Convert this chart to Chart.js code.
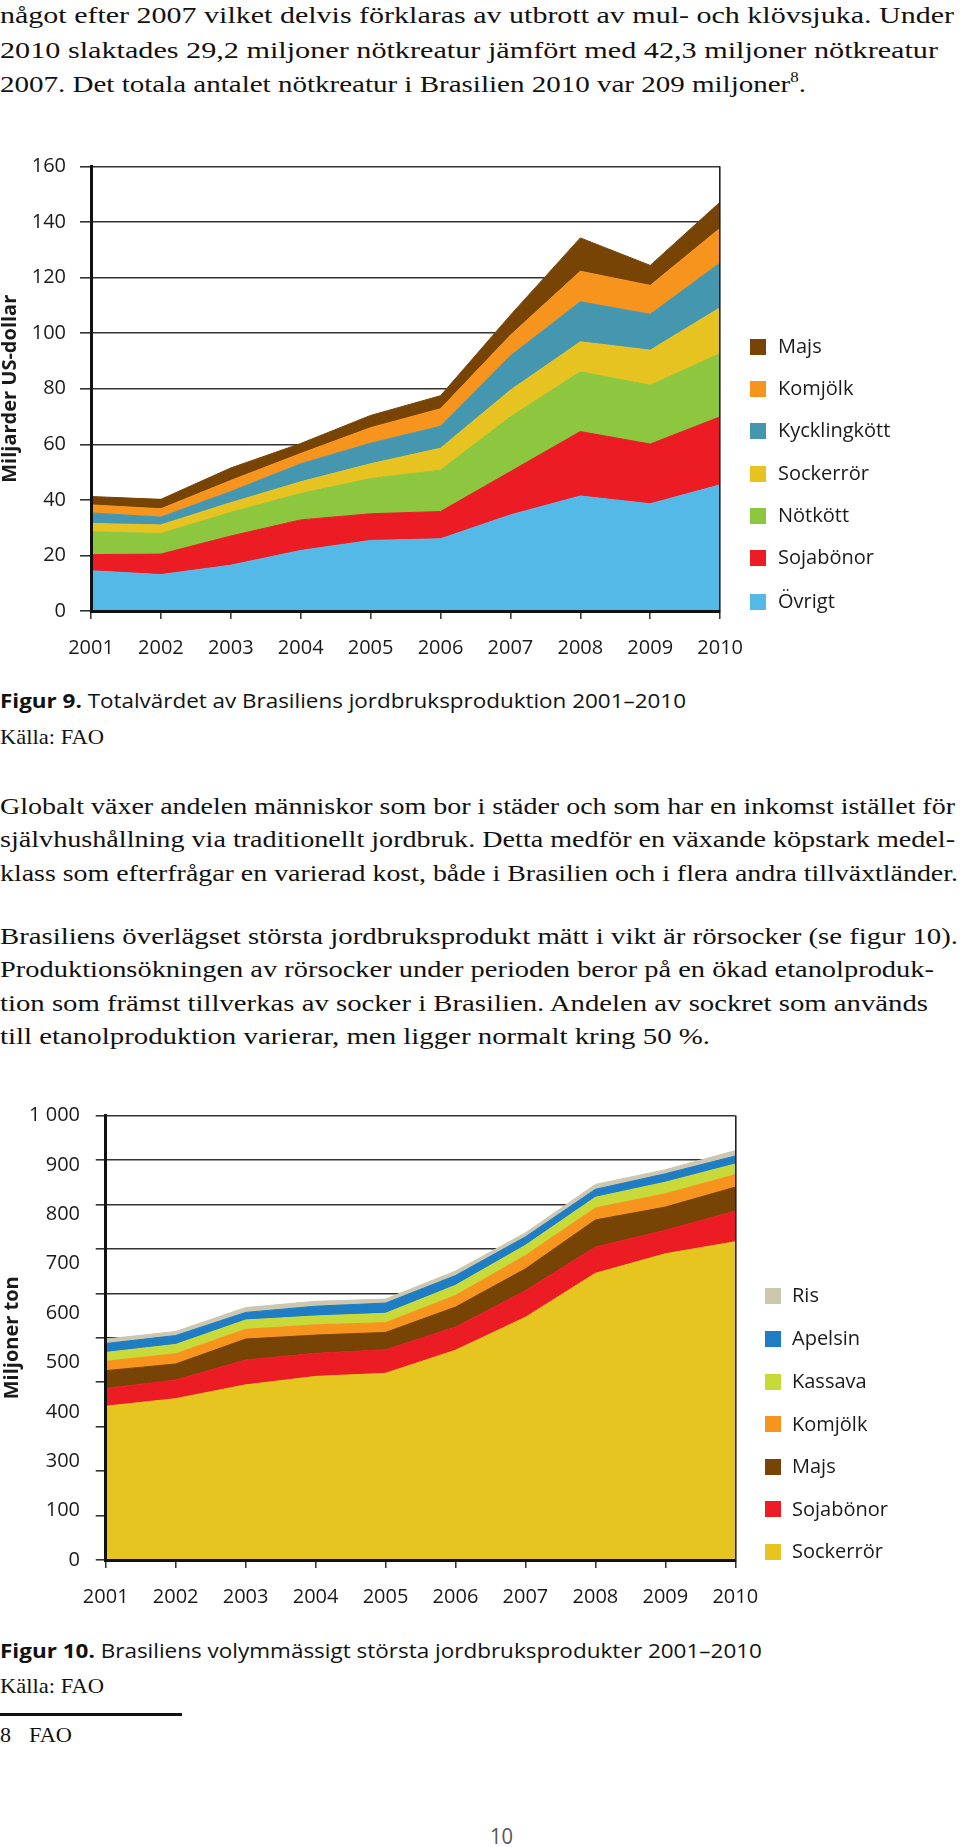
<!DOCTYPE html>
<html lang="sv">
<head>
<meta charset="utf-8">
<title>Brasiliens jordbruksproduktion</title>
<script src="https://cdn.jsdelivr.net/npm/chart.js@4/dist/chart.umd.min.js"></script>
<style>
  html, body { margin: 0; padding: 0; background: #fff; }
  #page { position: relative; width: 960px; height: 1847px; overflow: hidden; background: #fff; color: #111; }
  .ln { position: absolute; left: 0; white-space: nowrap; line-height: 1; transform-origin: 0 0; }
  .serif { font-family: "Liberation Serif", "Times New Roman", serif; font-size: 24px; }
  .serif22 { font-family: "Liberation Serif", "Times New Roman", serif; font-size: 22px; }
  .sans { font-family: "Open Sans", "Noto Sans", sans-serif; font-size: 20px; }
  .sans b { font-weight: 700; }
  sup { font-size: 14px; line-height: 0; vertical-align: 10px; }
  .chartbox { position: absolute; left: 0; }
  .leg { position: absolute; font-family: "Open Sans", "Noto Sans", sans-serif; font-size: 20px; line-height: 1; color: #1a1a1a; white-space: nowrap; }
  .sw { position: absolute; width: 16px; height: 16px; }
  #rule { position: absolute; left: 0; top: 1713px; width: 182px; height: 3px; background: #111; }
  .pgno { font-family: "Open Sans", "Noto Sans", sans-serif; font-size: 21px; color: #555; }
</style>
</head>
<body>
<div id="page">
  <!-- paragraph 1 -->
  <div class="ln serif" style="top:3.4px" data-w="954">något efter 2007 vilket delvis förklaras av utbrott av mul- och klövsjuka. Under</div>
  <div class="ln serif" style="top:38px" data-w="938">2010 slaktades 29,2 miljoner nötkreatur jämfört med 42,3 miljoner nötkreatur</div>
  <div class="ln serif" style="top:72.4px" data-w="806">2007. Det totala antalet nötkreatur i Brasilien 2010 var 209 miljoner<sup>8</sup>.</div>

  <!-- chart 1 -->
  <div class="chartbox" style="top:136px; width:760px; height:534px;"><canvas id="c1" width="760" height="534"></canvas></div>
  <div id="leg1"></div>

  <div class="ln sans" style="top:690.5px" data-w="686"><b>Figur 9.</b> Totalvärdet av Brasiliens jordbruksproduktion 2001–2010</div>
  <div class="ln serif22" style="top:725.6px" data-w="104">Källa: FAO</div>

  <!-- paragraph 2 -->
  <div class="ln serif" style="top:793.9px" data-w="955">Globalt växer andelen människor som bor i städer och som har en inkomst istället för</div>
  <div class="ln serif" style="top:827.4px" data-w="955">självhushållning via traditionellt jordbruk. Detta medför en växande köpstark medel-</div>
  <div class="ln serif" style="top:860.9px" data-w="958">klass som efterfrågar en varierad kost, både i Brasilien och i flera andra tillväxtländer.</div>

  <!-- paragraph 3 -->
  <div class="ln serif" style="top:923.5px" data-w="958">Brasiliens överlägset största jordbruksprodukt mätt i vikt är rörsocker (se figur 10).</div>
  <div class="ln serif" style="top:957px" data-w="934">Produktionsökningen av rörsocker under perioden beror på en ökad etanolproduk-</div>
  <div class="ln serif" style="top:990.5px" data-w="928">tion som främst tillverkas av socker i Brasilien. Andelen av sockret som används</div>
  <div class="ln serif" style="top:1024px" data-w="710">till etanolproduktion varierar, men ligger normalt kring 50 %.</div>

  <!-- chart 2 -->
  <div class="chartbox" style="top:1083px; width:780px; height:537px;"><canvas id="c2" width="780" height="537"></canvas></div>
  <div id="leg2"></div>

  <div class="ln sans" style="top:1641.2px" data-w="762"><b>Figur 10.</b> Brasiliens volymmässigt största jordbruksprodukter 2001–2010</div>
  <div class="ln serif22" style="top:1674.6px" data-w="104">Källa: FAO</div>
  <div id="rule"></div>
  <div class="ln serif22" style="top:1723.6px; left:0">8</div>
  <div class="ln serif22" style="top:1723.6px; left:29px" data-w="43">FAO</div>
  <div class="ln pgno" style="top:1826.3px; left:490px" data-w="23">10</div>
</div>

<script>
// ---------- data ----------
const years = ['2001','2002','2003','2004','2005','2006','2007','2008','2009','2010'];

// Figur 9 – Miljarder US-dollar
const ovrigt1    = [14.5, 13.1, 16.5, 21.8, 25.4, 26.0, 34.6, 41.4, 38.6, 45.4];
const sojabonor1 = [5.8, 7.4, 10.5, 11.0, 9.6, 9.8, 15.6, 23.2, 21.5, 24.5];
const notkott1   = [8.2, 7.4, 8.5, 9.5, 12.7, 14.9, 19.7, 21.5, 21.2, 22.8];
const sockerror1 = [3.0, 3.1, 3.5, 4.2, 5.3, 7.9, 9.6, 10.8, 12.6, 16.5];
const kyckling1  = [3.8, 2.8, 4.0, 6.5, 7.4, 7.9, 12.4, 14.4, 12.9, 16.1];
const komjolk1   = [2.9, 3.0, 4.0, 3.7, 5.6, 6.3, 7.4, 11.0, 10.4, 12.5];
const majs1      = [3.0, 3.4, 4.5, 3.6, 4.4, 4.7, 7.2, 12.0, 7.2, 9.4];

// Figur 10 – Miljoner ton
const sockerror2 = [346, 363, 394, 413, 420, 472, 546, 645, 689, 716];
const sojabonor2 = [40, 42, 56, 52, 53, 52, 60, 59, 53, 69];
const majs2      = [40, 36, 47, 41, 39, 45, 49, 61, 52, 54];
const komjolk2   = [21, 23, 22, 23, 22, 26, 30, 27, 30, 28];
const kassava2   = [20, 21, 21, 20, 21, 23, 23, 24, 26, 24];
const apelsin2   = [20, 20, 17, 22, 23, 22, 19, 18, 19, 18];
const ris2       = [10, 9, 11, 11, 9, 10, 9, 11, 9, 12];

// y tick labels of Figur 10 as printed (evenly spaced, independent of the grid)
const yLabels2 = ['0', '100', '300', '400', '500', '600', '700', '800', '900', '1 000'];

// ---------- styles ----------
const series1 = [
  {label: 'Övrigt',       data: ovrigt1,    color: '#55b9e8'},
  {label: 'Sojabönor',    data: sojabonor1, color: '#ec1c24'},
  {label: 'Nötkött',      data: notkott1,   color: '#8dc63f'},
  {label: 'Sockerrör',    data: sockerror1, color: '#e7c322'},
  {label: 'Kycklingkött', data: kyckling1,  color: '#4597b0'},
  {label: 'Komjölk',      data: komjolk1,   color: '#f7941d'},
  {label: 'Majs',         data: majs1,      color: '#774406'}
];
const series2 = [
  {label: 'Sockerrör', data: sockerror2, color: '#e6c520'},
  {label: 'Sojabönor', data: sojabonor2, color: '#ec1c24'},
  {label: 'Majs',      data: majs2,      color: '#774406'},
  {label: 'Komjölk',   data: komjolk2,   color: '#f7941d'},
  {label: 'Kassava',   data: kassava2,   color: '#c8d93a'},
  {label: 'Apelsin',   data: apelsin2,   color: '#1f7dc3'},
  {label: 'Ris',       data: ris2,       color: '#cdc7b0'}
];

const FONT = '"Open Sans", "Noto Sans", sans-serif';
const INK = '#1a1a1a';

function makeDatasets(series) {
  return series.map((s, i) => ({
    label: s.label,
    data: s.data,
    backgroundColor: s.color,
    borderColor: s.color,
    borderWidth: 1,
    pointRadius: 0,
    pointHoverRadius: 0,
    tension: 0,
    fill: i === 0 ? 'origin' : '-1'
  }));
}

function xAxis(height) {
  return {
    type: 'category',
    offset: false,
    afterFit: (s) => { s.height = height; },
    grid: {
      display: true,
      drawOnChartArea: true,
      offset: false,
      z: 1,
      color: (ctx) => (ctx.index === years.length - 1 ? '#222' : 'rgba(0,0,0,0)'),
      lineWidth: 1.6,
      tickColor: '#222',
      tickWidth: 1.4,
      tickLength: 8
    },
    border: { display: true, color: '#111', width: 3, z: 1 },
    ticks: {
      color: INK, padding: 17, maxRotation: 0, autoSkip: false,
      font: { family: FONT, size: 20, lineHeight: 1.2 }
    }
  };
}

function yTitle(text, padTop) {
  return {
    display: true, text: text, color: INK,
    font: { family: FONT, size: 20, weight: 'bold', lineHeight: 1 },
    padding: { top: padTop, bottom: 0 }
  };
}

Chart.defaults.devicePixelRatio = 1;

// ---------- Figur 9 ----------
new Chart(document.getElementById('c1'), {
  type: 'line',
  data: { labels: years, datasets: makeDatasets(series1) },
  options: {
    responsive: false,
    animation: false,
    devicePixelRatio: 1,
    layout: { padding: { left: 0, right: 39, top: 30.5, bottom: 0 } },
    plugins: { legend: { display: false }, tooltip: { enabled: false } },
    elements: { line: { borderJoinStyle: 'miter' } },
    scales: {
      x: xAxis(59),
      y: {
        stacked: true,
        min: 0, max: 160,
        afterFit: (s) => { s.width = 91; },
        title: yTitle('Miljarder US-dollar', 0),
        grid: { color: '#333', lineWidth: 1.6, tickLength: 11, tickColor: '#333', drawTicks: true },
        border: { display: true, color: '#111', width: 3, z: 1 },
        ticks: {
          stepSize: 20, padding: 14, color: INK, autoSkip: false,
          font: { family: FONT, size: 20, lineHeight: 1.2 }
        }
      }
    }
  }
});

// ---------- Figur 10 ----------
new Chart(document.getElementById('c2'), {
  type: 'line',
  data: { labels: years, datasets: makeDatasets(series2) },
  options: {
    responsive: false,
    animation: false,
    devicePixelRatio: 1,
    layout: { padding: { left: 0, right: 44.7, top: 32.5, bottom: 0 } },
    plugins: { legend: { display: false }, tooltip: { enabled: false } },
    scales: {
      x: xAxis(60),
      y: {
        stacked: true,
        min: 0, max: 1000,
        afterFit: (s) => { s.width = 105.7; },
        afterBuildTicks: (scale) => {
          const ticks = [];
          for (let v = 0; v <= 1000; v += 100) ticks.push({ value: v, _grid: true, _label: '' });
          yLabels2.forEach((lab, i) => {
            const v = i * 1000 / (yLabels2.length - 1);
            const hit = ticks.find(t => Math.abs(t.value - v) < 0.5);
            if (hit) hit._label = lab;
            else ticks.push({ value: v, _grid: false, _label: lab });
          });
          ticks.sort((a, b) => a.value - b.value);
          scale.ticks = ticks;
        },
        title: yTitle('Miljoner ton', 2),
        grid: {
          color: (ctx) => (ctx.tick && ctx.tick._grid ? '#333' : 'rgba(0,0,0,0)'),
          tickColor: (ctx) => (ctx.tick && ctx.tick._grid ? '#333' : 'rgba(0,0,0,0)'),
          lineWidth: 1.6, tickLength: 10, drawTicks: true
        },
        border: { display: true, color: '#111', width: 3, z: 1 },
        ticks: {
          padding: 15.7, color: INK, autoSkip: false,
          font: { family: FONT, size: 20, lineHeight: 1.2 },
          callback: (value, index, ticks) => ticks[index]._label
        }
      }
    }
  }
});

// ---------- HTML legends (built from the series) ----------
function buildLegend(id, items, swX, textX, rowCenters) {
  const host = document.getElementById(id);
  items.forEach((s, i) => {
    const c = rowCenters[i];
    const sw = document.createElement('div');
    sw.className = 'sw';
    sw.style.left = swX + 'px';
    sw.style.top = (c - 8) + 'px';
    sw.style.background = s.color;
    host.appendChild(sw);
    const t = document.createElement('div');
    t.className = 'leg';
    t.style.left = textX + 'px';
    t.style.top = (c - 10.6) + 'px';
    t.textContent = s.label;
    host.appendChild(t);
  });
}
buildLegend('leg1', series1.slice().reverse(), 750, 778, [347, 389, 431, 473.5, 516, 558, 601.5]);
buildLegend('leg2', series2.slice().reverse(), 765, 792, [1296, 1339, 1381.7, 1424.3, 1466.7, 1509.3, 1551.7]);

// ---------- fit text lines to the measured widths of the reference ----------
function fitLines() {
  document.querySelectorAll('[data-w]').forEach(el => {
    el.style.transform = 'none';
    const w = el.getBoundingClientRect().width;
    const t = parseFloat(el.dataset.w);
    if (w > 0) el.style.transform = 'scaleX(' + (t / w).toFixed(4) + ')';
  });
}
fitLines();
if (document.fonts && document.fonts.ready) document.fonts.ready.then(fitLines);
</script>
</body>
</html>
